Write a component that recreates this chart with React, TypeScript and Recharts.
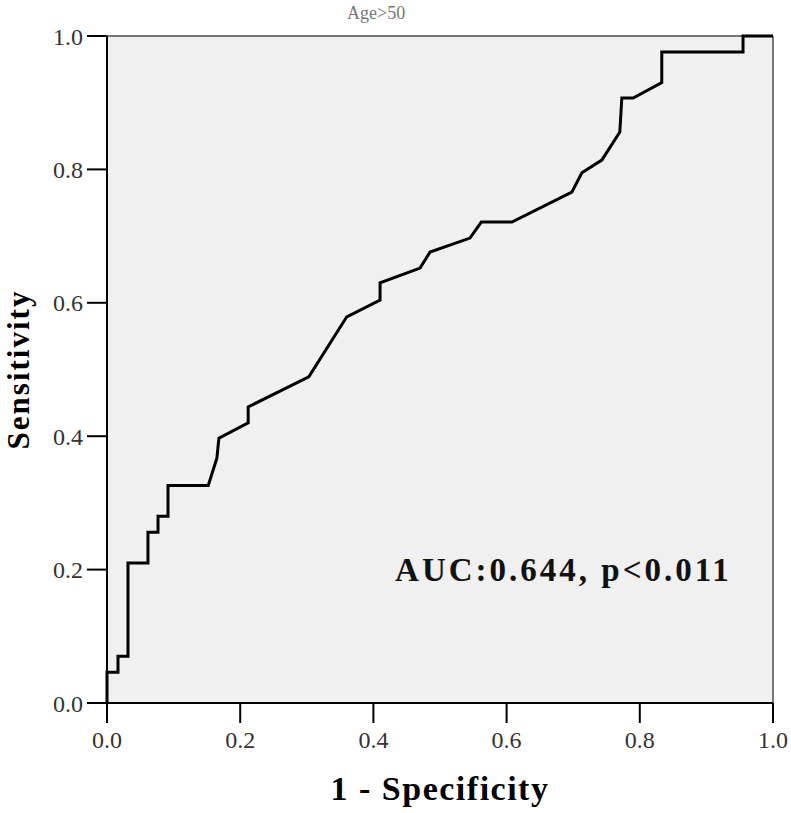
import { LineChart, Line, XAxis, YAxis, CartesianGrid, ReferenceLine, ReferenceDot } from "recharts";

// ROC curve (1 - specificity, sensitivity)
const fprValues = [
  0, 0, 0.0165, 0.0165, 0.0315, 0.0315, 0.0615, 0.0615, 0.0766, 0.0766, 0.0916, 0.0916,
  0.152, 0.165, 0.168, 0.212, 0.212, 0.303, 0.36, 0.41, 0.41, 0.47, 0.485, 0.545, 0.562,
  0.608, 0.698, 0.713, 0.743, 0.77, 0.773, 0.79, 0.833, 0.833, 0.955, 0.955, 1,
];
const tprValues = [
  0, 0.046, 0.046, 0.07, 0.07, 0.21, 0.21, 0.256, 0.256, 0.28, 0.28, 0.326,
  0.326, 0.367, 0.397, 0.42, 0.444, 0.489, 0.579, 0.604, 0.63, 0.652, 0.676, 0.697, 0.721,
  0.721, 0.766, 0.795, 0.814, 0.856, 0.907, 0.907, 0.93, 0.976, 0.976, 1, 1,
];
const axisTicks = [0, 0.2, 0.4, 0.6, 0.8, 1];

const title = "Age>50";
const aucText = "AUC:0.644, p<0.011";

const data = fprValues.map((fpr, i) => ({ fpr, tpr: tprValues[i] }));

const serif = "'Liberation Serif', 'Times New Roman', serif";
const tickStyle = { fill: "#333", fontSize: 24, fontFamily: serif };
const fmt = (v: number) => v.toFixed(1);

export default function App() {
  return (
    <div style={{ position: "absolute", left: 0, top: 0, width: 791, height: 813, background: "#fff" }}>
      <div
        style={{
          position: "absolute",
          left: 347,
          top: 4,
          fontFamily: serif,
          fontSize: 18,
          lineHeight: "18px",
          color: "#777",
        }}
      >
        {title}
      </div>
      <LineChart width={791} height={813} data={data} margin={{ top: 36, right: 18, bottom: 8, left: 0 }}>
        <CartesianGrid fill="#f0f0f0" horizontal={false} vertical={false} />
        <XAxis
          dataKey="fpr"
          type="number"
          domain={[0, 1]}
          ticks={axisTicks}
          tickFormatter={fmt}
          height={102}
          tickSize={20}
          tickMargin={8}
          tick={tickStyle}
          axisLine={{ stroke: "#000", strokeWidth: 2 }}
          tickLine={{ stroke: "#000", strokeWidth: 2 }}
          label={{
            value: "1 - Specificity",
            position: "insideBottom",
            offset: 5,
            style: { fontFamily: serif, fontSize: 34, fontWeight: "bold", fill: "#000", letterSpacing: 1.5 },
          }}
        />
        <YAxis
          type="number"
          domain={[0, 1]}
          ticks={axisTicks}
          tickFormatter={fmt}
          width={107}
          tickSize={20}
          tickMargin={4}
          tick={tickStyle}
          axisLine={{ stroke: "#000", strokeWidth: 2 }}
          tickLine={{ stroke: "#000", strokeWidth: 2 }}
          label={{
            value: "Sensitivity",
            angle: -90,
            position: "insideLeft",
            offset: 18,
            style: { textAnchor: "middle", fontFamily: serif, fontSize: 31, fontWeight: "bold", fill: "#000", letterSpacing: 2 },
          }}
        />
        <ReferenceLine y={1} stroke="#777" strokeWidth={2} />
        <ReferenceLine x={1} stroke="#777" strokeWidth={2} />
        <Line
          dataKey="tpr"
          type="linear"
          stroke="#000"
          strokeWidth={3}
          dot={false}
          activeDot={false}
          isAnimationActive={false}
        />
        <ReferenceDot
          x={0.425}
          y={0.2}
          r={0}
          fill="none"
          stroke="none"
          label={{
            value: aucText,
            position: "right",
            offset: 5,
            style: { fontFamily: serif, fontSize: 33, fontWeight: "bold", fill: "#111", letterSpacing: 3 },
          }}
        />
      </LineChart>
    </div>
  );
}
